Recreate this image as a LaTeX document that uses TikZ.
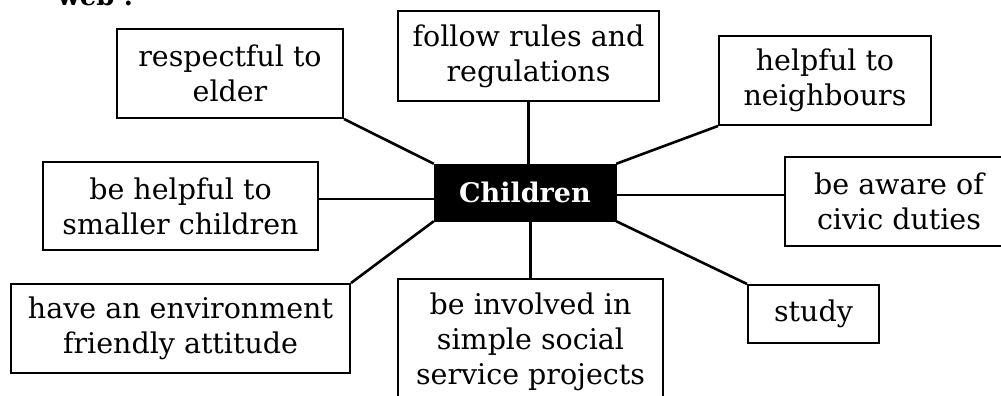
\documentclass[tikz,border=0pt]{standalone}
\usepackage{fontspec}
\setmainfont{DejaVu Serif}
\begin{document}
\begin{tikzpicture}[x=1pt,y=-1pt,
  box/.style={draw, line width=2pt, rectangle, align=center, inner sep=0pt,
    font=\fontsize{28.5}{35}\selectfont},
  hub/.style={fill=black, draw=black, text=white, inner sep=0pt,
    font=\fontsize{27}{35}\selectfont\bfseries},
  link/.style={line width=2.6pt}]
\useasboundingbox (0,0) rectangle (1001,396);
\node[anchor=base west, font=\fontsize{26}{30}\selectfont\bfseries] (web) at (54,6) {web :};
\node[hub, minimum width=182pt, minimum height=57pt] (child) at (525,192.5) {Children};
\node[box, minimum width=226pt, minimum height=89pt] (resp) at (230,73.5) {respectful to\\elder};
\node[box, minimum width=261pt, minimum height=90pt] (follow) at (528.5,56) {follow rules and\\regulations};
\node[box, minimum width=212pt, minimum height=89pt] (neigh) at (825,80.5) {helpful to\\neighbours};
\node[box, minimum width=228pt, minimum height=89pt] (civic) at (899,201.5) {be aware of\\civic duties};
\node[box, minimum width=131pt, minimum height=58pt] (study) at (813.5,314) {study};
\node[box, minimum width=265pt, minimum height=125pt] (inv) at (530.5,341.5) {be involved in\\simple social\\service projects};
\node[box, minimum width=275pt, minimum height=88pt] (small) at (180.5,206) {be helpful to\\smaller children};
\node[box, minimum width=339pt, minimum height=89pt] (env) at (180.5,328.5) {have an environment\\friendly attitude};
\coordinate (civicin) at ([yshift=6.5pt]civic.west);
\coordinate (smallout) at ([yshift=7pt]small.east);
\draw[link] (resp.south east) -- (child.north west);
\draw[link] (follow.south) -- (follow.south |- child.north);
\draw[link] (neigh.south west) -- (child.north east);
\draw[link] (civicin) -- (child.east |- civicin);
\draw[link] (child.south east) -- (study.north west);
\draw[link] (inv.north) -- (inv.north |- child.south);
\draw[link] (child.south west) -- (env.north east);
\draw[link] (smallout) -- (child.west |- smallout);
\end{tikzpicture}
\end{document}
